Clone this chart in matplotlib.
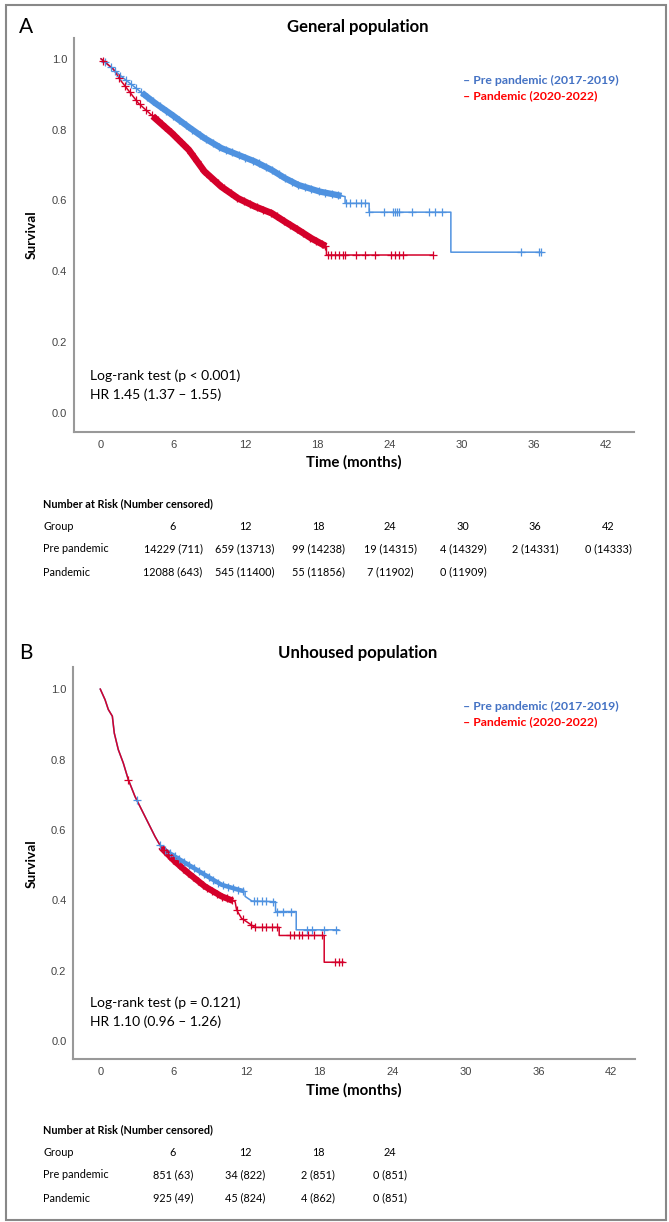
import numpy as np
import matplotlib
matplotlib.use('Agg')
import matplotlib.pyplot as plt
from matplotlib.patches import Rectangle

plt.rcParams['font.family'] = ['Lato', 'DejaVu Sans']

W, H = 669, 1222

# ---- General population (panel A) ----
gen_pre_t = [0, 1.7, 3.1, 4.5, 5.9, 7.3, 8.6, 10.0, 11.4, 12.8, 14.2, 15.3, 16.4, 18.2,
             20.3, 20.3, 22.3, 22.3, 29.1, 29.1, 36.6]
gen_pre_s = [1.0, 0.950, 0.912, 0.875, 0.842, 0.807, 0.776, 0.748, 0.729, 0.710, 0.686, 0.663,
             0.644, 0.625, 0.611, 0.592, 0.592, 0.567, 0.567, 0.454, 0.454]
gen_pan_t = [0, 1.0, 1.7, 3.1, 4.5, 5.9, 7.3, 8.6, 10.0, 11.4, 12.8, 14.2, 15.3, 16.4, 17.5,
             18.75, 18.75, 27.6]
gen_pan_s = [1.0, 0.972, 0.936, 0.875, 0.832, 0.790, 0.743, 0.682, 0.639, 0.606, 0.583, 0.564,
             0.540, 0.517, 0.493, 0.470, 0.446, 0.446]
gen_pre_dense = [3.4, 20.0]
gen_pan_dense = [4.3, 18.7]
gen_pre_cens = [0.3, 0.8, 1.2, 1.6, 2.1, 2.5, 2.9, 3.3, 3.8, 4.3, 4.9, 5.4, 6.0, 6.5, 7.1, 7.6,
                8.2, 8.7, 9.3, 9.8, 10.4, 10.9, 11.5, 12.0, 12.6, 13.1, 13.7, 14.2, 14.8, 15.3,
                15.9, 16.4, 17.0, 17.5, 18.1, 18.6, 19.2, 19.7,
                20.34, 20.7, 21.2, 21.6, 21.95, 22.3, 23.54, 24.25, 24.43, 24.6, 24.78, 25.84,
                27.26, 27.8, 28.33, 34.9, 36.4, 36.6]
gen_pan_cens = [0.2, 1.5, 2.0, 2.4, 2.9, 3.2, 3.7, 4.2, 4.7, 5.3, 5.8, 6.4, 6.9, 7.5, 8.0, 8.6,
                9.1, 9.7, 10.2, 10.8, 11.3, 11.9, 12.4, 13.0, 13.5, 14.1, 14.6, 15.2, 15.7,
                16.3, 16.8, 17.4, 17.9, 18.4, 18.6,
                18.92, 19.1, 19.46, 19.8, 20.16, 20.3, 21.2, 21.95, 22.8, 24.08, 24.43, 24.78,
                25.1, 27.6]

# ---- Unhoused population (panel B) ----
unh_pre_t = [0, 0.39, 0.66, 0.99, 1.15, 1.48, 1.89, 2.3, 2.85, 3.4, 3.95, 4.5, 5.05, 6.14,
             7.24, 8.61, 9.98, 11.35, 11.9, 11.9, 12.45, 14.4, 14.4, 16.1, 16.1, 19.6]
unh_pre_s = [1.0, 0.970, 0.942, 0.923, 0.875, 0.828, 0.790, 0.743, 0.695, 0.657, 0.619, 0.581,
             0.548, 0.524, 0.501, 0.472, 0.444, 0.430, 0.425, 0.411, 0.398, 0.396, 0.368,
             0.368, 0.316, 0.316]
unh_pan_t = [0, 0.39, 0.66, 0.99, 1.15, 1.48, 1.89, 2.3, 2.85, 3.4, 3.95, 4.5, 5.05, 6.14,
             7.24, 8.61, 9.98, 11.08, 11.2, 11.6, 12.2, 12.7, 14.7, 14.7, 18.4, 18.4, 20.0]
unh_pan_s = [1.0, 0.970, 0.942, 0.923, 0.875, 0.828, 0.790, 0.743, 0.695, 0.657, 0.619, 0.581,
             0.548, 0.510, 0.477, 0.439, 0.411, 0.396, 0.373, 0.349, 0.335, 0.323, 0.323,
             0.300, 0.300, 0.224, 0.224]
unh_pre_dense = [5.0, 11.8]
unh_pan_dense = [5.0, 10.9]
unh_pre_cens = [3.0, 4.9, 5.3, 5.7, 6.1, 6.5, 6.9, 7.3, 7.7, 8.1, 8.5, 8.9, 9.3, 9.7, 10.1,
                10.5, 10.9, 11.3, 11.7, 12.6, 12.9, 13.3, 13.6, 14.2, 14.56, 15.0, 15.7,
                17.0, 17.4, 18.4, 19.4]
unh_pan_cens = [2.3, 5.2, 5.6, 6.0, 6.4, 6.8, 7.2, 7.6, 8.0, 8.4, 8.8, 9.2, 9.6, 10.0, 10.4,
                10.8, 11.2, 11.75, 12.4, 12.74, 13.27, 13.6, 14.1, 14.5, 15.6, 15.9, 16.3,
                16.6, 17.1, 17.6, 18.2, 19.3, 19.6, 19.9]

ticks_x = [0, 6, 12, 18, 24, 30, 36, 42]
ticks_y = [0.0, 0.2, 0.4, 0.6, 0.8, 1.0]

risk_cols = ['6', '12', '18', '24', '30', '36', '42']
gen_risk_pre = ['14229 (711)', '659 (13713)', '99 (14238)', '19 (14315)', '4 (14329)',
                '2 (14331)', '0 (14333)']
gen_risk_pan = ['12088 (643)', '545 (11400)', '55 (11856)', '7 (11902)', '0 (11909)']
unh_risk_pre = ['851 (63)', '34 (822)', '2 (851)', '0 (851)']
unh_risk_pan = ['925 (49)', '45 (824)', '4 (862)', '0 (851)']

BLUE = '#4F92E0'
RED = '#D4002A'


def px(x, y):
    return x / W, 1 - y / H


def km(ax, t, s, cens, dense, color, band):
    t = np.array(t)
    s = np.array(s)
    ax.plot(t, s, color=color, lw=1.1, zorder=3)
    m = (t >= dense[0]) & (t <= dense[1])
    tt = np.concatenate([[dense[0]], t[m], [dense[1]]])
    ax.plot(tt, np.interp(tt, t, s), color=color, lw=band, solid_capstyle='butt', zorder=3)
    c = np.array(cens)
    ax.plot(c, np.interp(c, t, s), ls='none', marker='+', ms=6, mew=0.9, color=color, zorder=4)


def panel(rect, ylim, xlim, pre, pan, letter, title, ytop, stats, risk_y, risk_pre, risk_pan,
          ncol, bands):
    ax = fig.add_axes(rect)
    km(ax, *pre, BLUE, bands[0])
    km(ax, *pan, RED, bands[1])
    ax.set_xlim(*xlim)
    ax.set_ylim(*ylim)
    ax.set_xticks(ticks_x)
    ax.set_yticks(ticks_y)
    ax.set_xticklabels([str(v) for v in ticks_x], family=['Liberation Sans', 'DejaVu Sans'])
    ax.set_yticklabels(['%.1f' % v for v in ticks_y], family=['Liberation Sans', 'DejaVu Sans'])
    ax.tick_params(length=0, labelsize=8, labelcolor='#444444')
    ax.tick_params(axis='y', pad=5)
    ax.tick_params(axis='x', pad=6)
    for sp in ['top', 'right']:
        ax.spines[sp].set_visible(False)
    for sp in ['left', 'bottom']:
        ax.spines[sp].set_color('#999999')
        ax.spines[sp].set_linewidth(1.5)
    ax.set_xlabel('Time (months)', fontsize=10.8, fontweight='bold', labelpad=4)
    ax.set_ylabel('Survival', fontsize=9.8, fontweight='bold', labelpad=10)

    fig.text(*px(26, ytop), letter, fontsize=15, ha='center', va='center')
    fig.text(*px(358, ytop), title, fontsize=12, fontweight='bold', ha='center', va='center')
    fig.text(*px(463, ytop + 53), '\u2013 Pre pandemic (2017-2019)', color='#4472C4',
             fontsize=8.8, fontweight='bold', va='center')
    fig.text(*px(463, ytop + 69), '\u2013 Pandemic (2020-2022)', color='#FF0000',
             fontsize=8.8, fontweight='bold', va='center')
    fig.text(*px(90, stats[0]), stats[1], fontsize=10, va='center')
    fig.text(*px(90, stats[0] + 19), stats[2], fontsize=10, va='center')

    cols_x = [173, 245, 318, 390, 463, 535, 608]
    fig.text(*px(43, risk_y), 'Number at Risk (Number censored)', fontsize=7.8,
             fontweight='bold', va='center')
    fig.text(*px(43, risk_y + 22), 'Group', fontsize=7.8, va='center')
    fig.text(*px(43, risk_y + 45), 'Pre pandemic', fontsize=7.8, va='center')
    fig.text(*px(43, risk_y + 68), 'Pandemic', fontsize=7.8, va='center')
    for i in range(ncol):
        fig.text(*px(cols_x[i], risk_y + 22), risk_cols[i], fontsize=7.8, ha='center', va='center')
    for i, v in enumerate(risk_pre):
        fig.text(*px(cols_x[i], risk_y + 45), v, fontsize=7.8, ha='center', va='center')
    for i, v in enumerate(risk_pan):
        fig.text(*px(cols_x[i], risk_y + 68), v, fontsize=7.8, ha='center', va='center')
    return ax


fig = plt.figure(figsize=(W / 100, H / 100), dpi=100)
fig.patches.append(Rectangle((6 / W, 1 - 1220 / H), 660 / W, 1215 / H, transform=fig.transFigure,
                             fill=False, edgecolor='#888888', lw=1.5))

panel([74 / W, 1 - 431.7 / H, 559.6 / W, 393.4 / H], (-0.053, 1.058), (-2.25, 44.3),
      (gen_pre_t, gen_pre_s, gen_pre_cens, gen_pre_dense),
      (gen_pan_t, gen_pan_s, gen_pan_cens, gen_pan_dense),
      'A', 'General population', 27,
      (376, 'Log-rank test (p < 0.001)', 'HR 1.45 (1.37 \u2013 1.55)'),
      504, gen_risk_pre, gen_risk_pan, 7, (4.5, 4.8))

panel([73.4 / W, 1 - 1059 / H, 561.1 / W, 391.7 / H], (-0.051, 1.062), (-2.21, 43.9),
      (unh_pre_t, unh_pre_s, unh_pre_cens, unh_pre_dense),
      (unh_pan_t, unh_pan_s, unh_pan_cens, unh_pan_dense),
      'B', 'Unhoused population', 653,
      (1003, 'Log-rank test (p = 0.121)', 'HR 1.10 (0.96 \u2013 1.26)'),
      1130, unh_risk_pre, unh_risk_pan, 4, (3.2, 4.5))

fig.savefig('out.png', dpi=100)
